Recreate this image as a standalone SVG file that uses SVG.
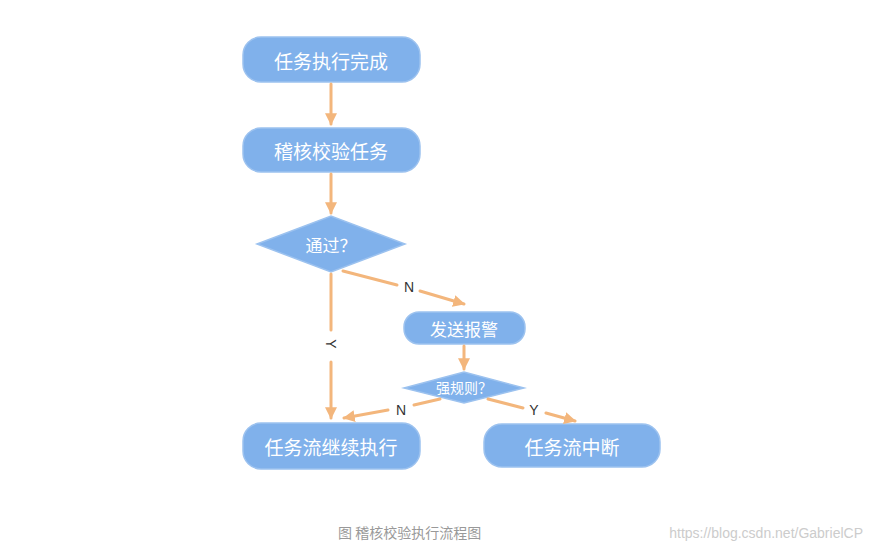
<svg xmlns="http://www.w3.org/2000/svg" width="872" height="556" viewBox="0 0 872 556">
<style>
.n{fill:#80b1eb;stroke:#9cc2ef;stroke-width:1.5}
.t{fill:#fff;font-family:"Noto Sans CJK SC",sans-serif;text-anchor:middle;dominant-baseline:central}
.c{stroke:#f3b67c;stroke-width:3;fill:none;stroke-linecap:round}
.l{fill:#333;font-family:"Liberation Sans",sans-serif;font-size:14px;text-anchor:middle;dominant-baseline:central}
</style>
<defs><marker id="a" viewBox="0 0 10 10" refX="9" refY="5" markerWidth="4" markerHeight="4" orient="auto"><path d="M0,0L10,5L0,10z" fill="#f3b67c"/></marker></defs>
<rect width="872" height="556" fill="#fff"/>
<g id="n1"><rect class="n" x="243" y="37" width="177" height="45" rx="18"/><text class="t" x="331" y="60" font-size="19">任务执行完成</text></g>
<g id="n2"><rect class="n" x="243" y="128" width="177" height="44" rx="18"/><text class="t" x="331" y="150" font-size="19">稽核校验任务</text></g>
<g id="n3"><polygon class="n" points="257,244 331,216 405,244 331,272"/><text class="t" x="331" y="244" font-size="17">通过？</text></g>
<g id="n4"><rect class="n" x="404" y="312" width="121" height="32" rx="15"/><text class="t" x="464" y="328" font-size="17">发送报警</text></g>
<g id="n5"><polygon class="n" points="404,388 464,372 524,388 464,403"/><text class="t" x="464" y="387" font-size="14">强规则？</text></g>
<g id="n6"><rect class="n" x="243" y="423" width="177" height="46" rx="18"/><text class="t" x="331" y="446" font-size="19">任务流继续执行</text></g>
<g id="n7"><rect class="n" x="484" y="424" width="176" height="43" rx="18"/><text class="t" x="572" y="446" font-size="19">任务流中断</text></g>
<g id="edges">
<path class="c" d="M331,84V124" marker-end="url(#a)"/>
<path class="c" d="M331,174V213" marker-end="url(#a)"/>
<path class="c" d="M331,274V330M331,362V418" marker-end="url(#a)"/>
<text class="l" x="331" y="344" transform="rotate(90 331 344)">Y</text>
<path class="c" d="M343,271L397,285M420,291L464,304" marker-end="url(#a)"/>
<text class="l" x="409" y="287">N</text>
<path class="c" d="M464,346V369" marker-end="url(#a)"/>
<path class="c" d="M440,399L414,405M388,410L344,418" marker-end="url(#a)"/>
<text class="l" x="401" y="410">N</text>
<path class="c" d="M488,399L523,408M546,413L575,421" marker-end="url(#a)"/>
<text class="l" x="534" y="410">Y</text>
</g>
<text x="338" y="538" font-family="Noto Sans CJK SC,sans-serif" font-size="14" fill="#999">图   稽核校验执行流程图</text>
<text x="863" y="538" font-family="Liberation Sans,sans-serif" font-size="14" fill="#ccc" text-anchor="end">https://blog.csdn.net/GabrielCP</text>
</svg>
